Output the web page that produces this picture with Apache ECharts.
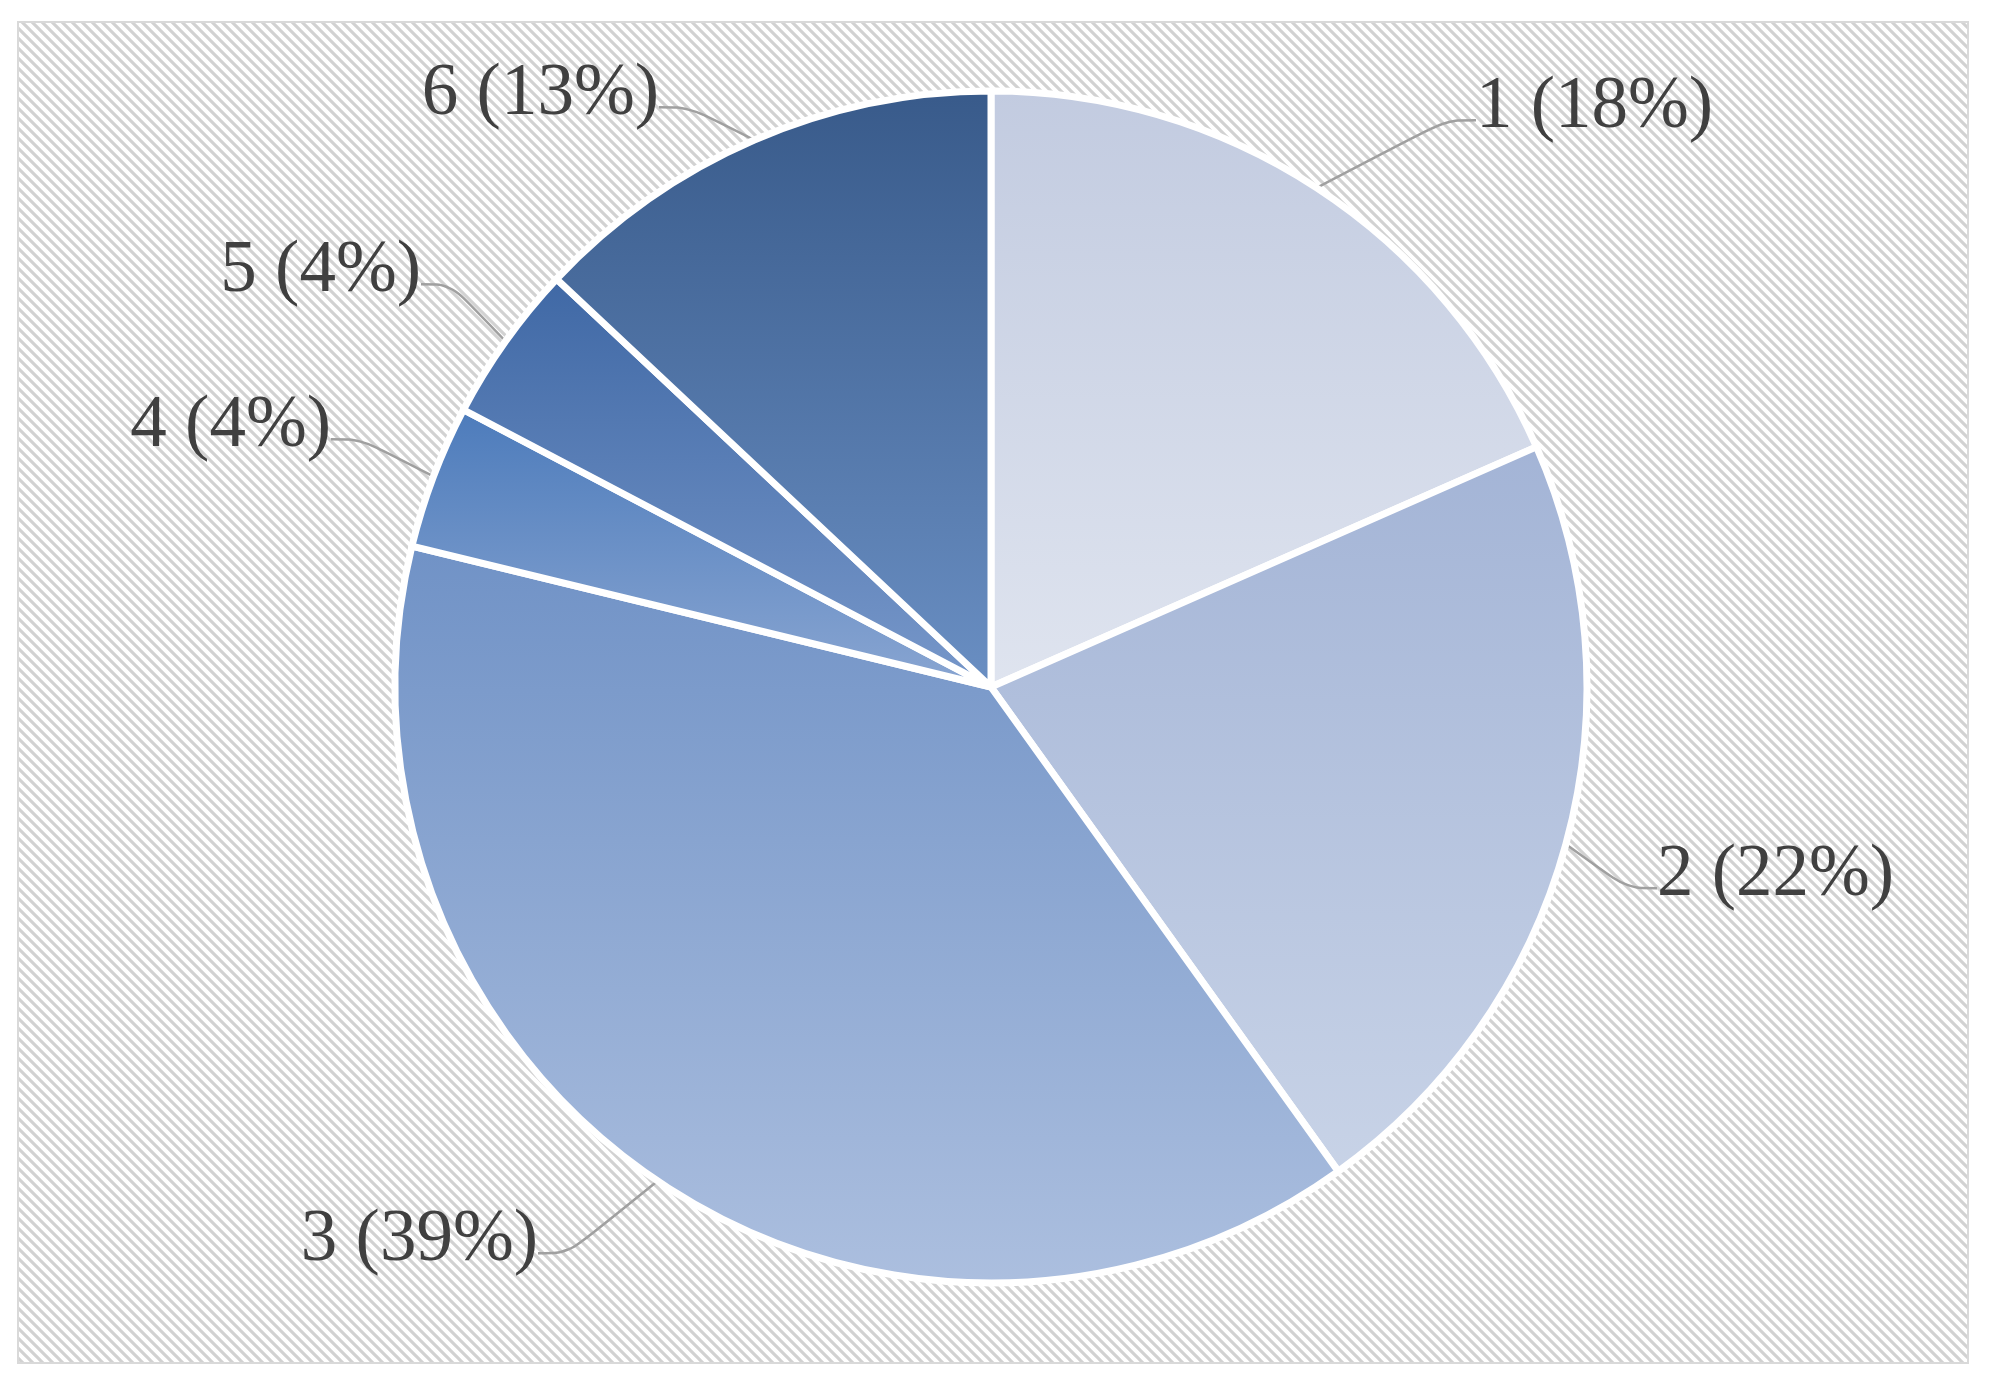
<!DOCTYPE html>
<html>
<head>
<meta charset="utf-8">
<script src="https://cdn.jsdelivr.net/npm/echarts@6/dist/echarts.min.js"></script>
<style>
  html, body { margin: 0; padding: 0; background: #fff; }
  #chartPie { width: 1989px; height: 1388px; }
</style>
</head>
<body>
<div id="chartPie"></div>
<script>
// data (share of each group, %)
const names = ['1', '2', '3', '4', '5', '6']
const values = [18.4, 21.7, 38.7, 3.9, 4.3, 13.0]

// gradient colours per slice, top -> bottom
const topColors = ['#c2cbe0', '#a3b4d6', '#7092c6', '#4c7bbb', '#3f68a5', '#385a8a']
const bottomColors = ['#dfe4ef', '#c8d3e7', '#acbfdf', '#8aa6d2', '#7898ca', '#6a8fc3']

// where each label box is anchored and which side it is on
const labelSpots = [
  [1476, 126, 'left'],
  [1657, 894, 'left'],
  [538, 1259, 'right'],
  [331, 445, 'right'],
  [421, 290, 'right'],
  [659, 113, 'right']
]

// diagonal hatch for the plot background
function hatch() {
  let c = document.createElement('canvas')
  c.width = 10
  c.height = 10
  let ctx = c.getContext('2d')
  ctx.fillStyle = '#ffffff'
  ctx.fillRect(0, 0, 10, 10)
  ctx.strokeStyle = '#d2d2d2'
  ctx.lineWidth = 3.1
  for (let k = -10; k <= 10; k += 10) {
    ctx.beginPath()
    ctx.moveTo(k - 2, -2)
    ctx.lineTo(k + 12, 12)
    ctx.stroke()
  }
  return c
}

let myChart = echarts.init(document.getElementById('chartPie'), null, { renderer: 'canvas' })

let pieData = []
for (let i = 0; i < names.length; i++) {
  pieData.push({
    name: names[i],
    value: values[i],
    itemStyle: {
      color: new echarts.graphic.LinearGradient(0, 0, 0, 1, [
        { offset: 0, color: topColors[i] },
        { offset: 1, color: bottomColors[i] }
      ])
    }
  })
}

myChart.setOption({
  backgroundColor: '#ffffff',
  animation: false,
  graphic: [
    {
      type: 'rect',
      z: 0,
      shape: { x: 18, y: 22, width: 1950, height: 1341 },
      style: {
        fill: { image: hatch(), repeat: 'repeat' },
        stroke: '#d9d9d9',
        lineWidth: 2
      }
    }
  ],
  series: [
    {
      type: 'pie',
      z: 5,
      center: [991, 687],
      radius: 596,
      startAngle: 90,
      clockwise: true,
      percentPrecision: 0,
      avoidLabelOverlap: false,
      data: pieData,
      itemStyle: {
        borderColor: '#ffffff',
        borderWidth: 7
      },
      label: {
        show: true,
        // empty second line so the leader line meets the text near its baseline
        formatter: '{a|{b} ({d}%)}\n{s| }',
        rich: {
          a: {
            fontFamily: 'Liberation Serif',
            fontSize: 73,
            lineHeight: 76,
            color: '#404040'
          },
          s: { fontSize: 10, lineHeight: 36 }
        }
      },
      labelLine: {
        show: true,
        length: 20,
        length2: 30,
        smooth: 0.35,
        lineStyle: { color: '#a0a0a0', width: 2.5 }
      },
      labelLayout: function (params) {
        let s = labelSpots[params.dataIndex]
        return { x: s[0], y: s[1], align: s[2], verticalAlign: 'middle' }
      }
    }
  ]
})
</script>
</body>
</html>
